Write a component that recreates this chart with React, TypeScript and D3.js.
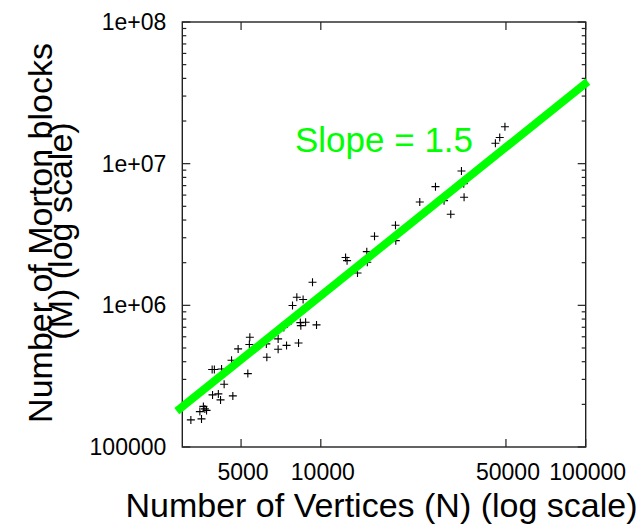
import React from "react";
import * as d3 from "d3";

// Scatter data: number of vertices (N) vs number of Morton blocks (M)
const verticesN = [
  3232, 3545, 3495, 3603, 3650, 3704, 3902, 4104, 4183, 4655, 4316, 3889, 3964, 4220,
  5303, 4603, 4874, 5396, 5373, 6228, 6255, 6901, 6901, 7424, 8240, 7252, 8369, 8762,
  8406, 9634, 7752, 7820, 8118, 8574, 9304, 12403, 12565, 14980, 14914, 13757, 15950,
  19139, 19187, 23637, 27094, 29195, 30944, 33959, 34647, 34743, 45614, 47365, 49555,
];
const mortonM = [
  155300, 157900, 177800, 193400, 185700, 181300, 233200, 237000, 215000, 229400, 277500,
  352800, 352800, 355700, 329600, 409900, 492400, 595500, 529700, 534100, 430300, 579300,
  490000, 521200, 542800, 698200, 755000, 760000, 719000, 727300, 782300, 998000, 1140500,
  1100400, 1455500, 2178000, 2068000, 2015000, 2393000, 1693000, 3073000, 3675000, 2861000,
  5367000, 6882000, 5482000, 4400000, 8881000, 7225000, 5793000, 13930000, 15300000, 18240000,
];

// Fitted line endpoints (slope 1.5 in log-log)
const fitN = [2860, 101800];
const fitM = [179000, 38000000];
const fitLabel = "Slope = 1.5";

// Axis ticks
const xTickValues = [5000, 10000, 50000, 100000];
const xTickLabels = ["5000", "10000", "50000", "100000"];
const yTickValues = [1e5, 1e6, 1e7, 1e8];
const yTickLabels = ["100000", "1e+06", "1e+07", "1e+08"];
const xDomain = [3000, 100000];
const yDomain = [1e5, 1e8];

const xTitle = "Number of Vertices (N) (log scale)";
const yTitleLines = ["Number of Morton blocks", "(M) (log scale)"];

const FONT = "'Liberation Sans', Arial, Helvetica, sans-serif";

export default function App() {
  const left = 182.3, right = 585.7, top = 22, bottom = 447;
  const x = d3.scaleLog().domain(xDomain).range([left, right]);
  const y = d3.scaleLog().domain(yDomain).range([bottom, top]);

  const minorY: number[] = [];
  for (let e = 5; e < 8; e++) {
    for (let k = 2; k <= 9; k++) minorY.push(k * Math.pow(10, e));
  }

  const line = d3
    .line<number>()
    .x((_, i) => x(fitN[i]))
    .y((_, i) => y(fitM[i]));

  const green = "#00ff00";
  const axisColor = "#222";

  return (
    <svg
      width={644}
      height={524}
      style={{ position: "absolute", left: 0, top: 0, background: "#fff" }}
      fontFamily={FONT}
    >
      <rect x={0} y={0} width={644} height={524} fill="#fff" />
      {/* y minor ticks */}
      {minorY.map((v, i) => (
        <g key={"my" + i} stroke={axisColor} strokeWidth={1.2}>
          <line x1={left} x2={left + 4} y1={y(v)} y2={y(v)} />
          <line x1={right} x2={right - 4} y1={y(v)} y2={y(v)} />
        </g>
      ))}
      {/* y major ticks */}
      {yTickValues.map((v, i) => (
        <g key={"yt" + i}>
          <line x1={left} x2={left + 8} y1={y(v)} y2={y(v)} stroke={axisColor} strokeWidth={1.2} />
          <line x1={right} x2={right - 8} y1={y(v)} y2={y(v)} stroke={axisColor} strokeWidth={1.2} />
          <text
            x={left - 16}
            y={y(v)}
            dy="0.35em"
            textAnchor="end"
            fontSize={23}
            fill="#000"
          >
            {yTickLabels[i]}
          </text>
        </g>
      ))}
      {/* x ticks */}
      {xTickValues.map((v, i) => (
        <g key={"xt" + i}>
          <line x1={x(v)} x2={x(v)} y1={bottom} y2={bottom - 8} stroke={axisColor} strokeWidth={1.2} />
          <line x1={x(v)} x2={x(v)} y1={top} y2={top + 8} stroke={axisColor} strokeWidth={1.2} />
          <text x={x(v) + 2} y={480} textAnchor="middle" fontSize={23} fill="#000">
            {xTickLabels[i]}
          </text>
        </g>
      ))}
      {/* border */}
      <rect
        x={left}
        y={top}
        width={right - left}
        height={bottom - top}
        fill="none"
        stroke={axisColor}
        strokeWidth={1.4}
      />
      {/* points */}
      {verticesN.map((n, i) => {
        const cx = x(n);
        const cy = y(mortonM[i]);
        return (
          <path
            key={"p" + i}
            d={`M${cx - 4},${cy}H${cx + 4}M${cx},${cy - 4}V${cy + 4}`}
            stroke="#000"
            strokeWidth={1.1}
            fill="none"
          />
        );
      })}
      {/* fitted line */}
      <path d={line(fitN) || ""} stroke={green} strokeWidth={8} fill="none" strokeLinecap="butt" />
      <text x={295} y={152} fontSize={35} fill={green}>
        {fitLabel}
      </text>
      {/* axis titles */}
      <text x={381.5} y={517} textAnchor="middle" fontSize={34} fill="#000">
        {xTitle}
      </text>
      <text
        transform={`translate(52,233) rotate(-90)`}
        textAnchor="middle"
        fontSize={34}
        fill="#000"
      >
        {yTitleLines[0]}
      </text>
      <text
        transform={`translate(72,231) rotate(-90)`}
        textAnchor="middle"
        fontSize={34}
        fill="#000"
      >
        {yTitleLines[1]}
      </text>
    </svg>
  );
}
